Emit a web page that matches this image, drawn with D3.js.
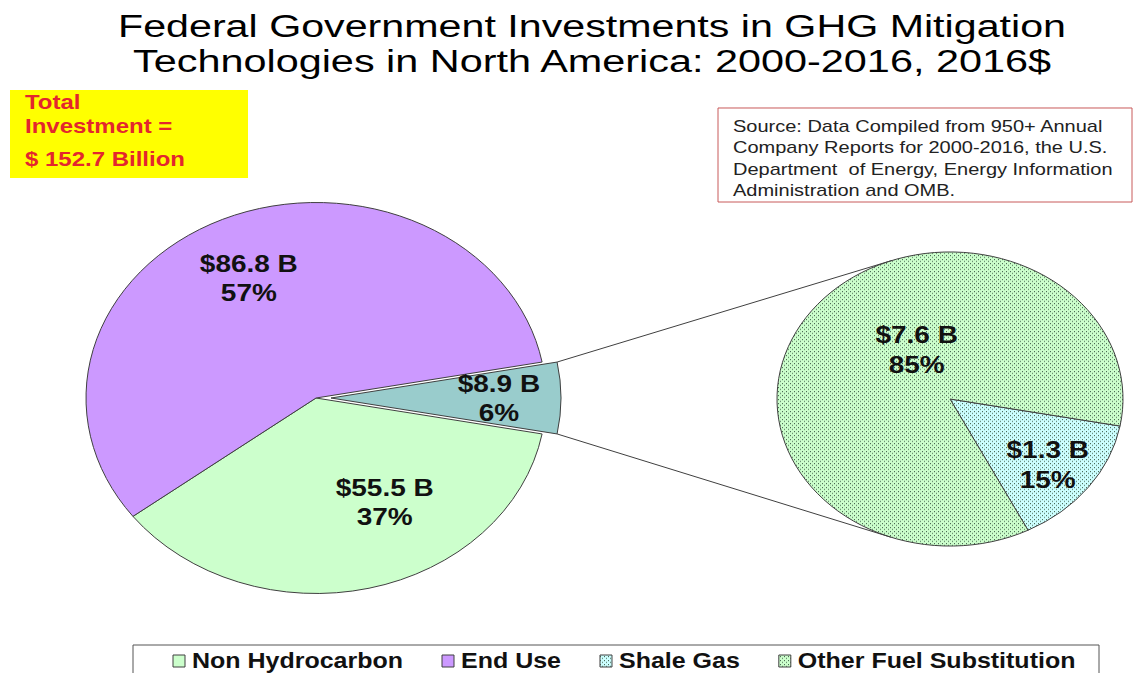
<!DOCTYPE html>
<html lang="en">
<head>
<meta charset="UTF-8">
<title>Federal Government Investments in GHG Mitigation Technologies</title>
<style>
  body { margin: 0; background: #fff; }
  svg { display: block; font-family: "Liberation Sans", Arial, sans-serif; }
  .pre { white-space: pre; }
</style>
</head>
<body>
<div id="chart"></div>
<script src="https://cdn.jsdelivr.net/npm/d3@7"></script>
<script>

// ---- data ----
var titleLines = ["Federal Government Investments in GHG Mitigation",
                  "Technologies in North America: 2000-2016, 2016$"];
var totalLines = ["Total", "Investment =", "$ 152.7 Billion"];
var sourceLines = ["Source: Data Compiled from 950+ Annual",
                   "Company Reports for 2000-2016, the U.S.",
                   "Department  of Energy, Energy Information",
                   "Administration and OMB."];

var mainCategories = ["Non Hydrocarbon", "End Use", "Fuel Substitution"];
var mainValues = [55.5, 86.8, 8.9];          // $ billion
var subCategories = ["Shale Gas", "Other Fuel Substitution"];
var subValues = [1.3, 7.6];                  // split of the 8.9 slice
var legendLabels = ["Non Hydrocarbon", "End Use", "Shale Gas", "Other Fuel Substitution"];

// ---- size ----
var width = 1139, height = 673;
var K = 0.85;                 // the picture is squeezed vertically
function Y(v) { return v / K; }

var svg = d3.select("#chart").append("svg")
    .attr("width", width)
    .attr("height", height);

// dotted fills
var defs = svg.append("defs");
function dots(id, base) {
    var p = defs.append("pattern")
        .attr("id", id)
        .attr("patternUnits", "userSpaceOnUse")
        .attr("width", 4).attr("height", 4)
        .attr("patternTransform", "scale(1," + (1 / K) + ")");
    p.append("rect").attr("width", 4).attr("height", 4).attr("fill", base);
    p.append("rect").attr("x", 0).attr("y", 0).attr("width", 1).attr("height", 1).attr("fill", "#3f5c48");
    p.append("rect").attr("x", 2).attr("y", 2).attr("width", 1).attr("height", 1).attr("fill", "#3f5c48");
}
dots("dotGreen", "#ccffcc");
dots("dotCyan", "#ccffff");

var color = d3.scaleOrdinal()
    .domain(["Non Hydrocarbon", "End Use", "Fuel Substitution", "Shale Gas", "Other Fuel Substitution"])
    .range(["#ccffcc", "#cc99ff", "#99cccc", "url(#dotCyan)", "url(#dotGreen)"]);

var g = svg.append("g").attr("transform", "scale(1," + K + ")");

// ---- title ----
var titleW = [948, 918];
g.selectAll(".title")
    .data(titleLines)
    .enter()
    .append("text")
    .attr("class", "title")
    .attr("x", 592)
    .attr("y", function (d, i) { return Y(37 + i * 35); })
    .attr("text-anchor", "middle")
    .attr("textLength", function (d, i) { return titleW[i]; })
    .attr("lengthAdjust", "spacingAndGlyphs")
    .style("font-size", "37px")
    .text(function (d) { return d; });

// ---- total investment box ----
g.append("rect")
    .attr("x", 10).attr("y", Y(90))
    .attr("width", 238).attr("height", Y(88))
    .attr("fill", "#ffff00");
var totalY = [109, 133, 166];
g.selectAll(".total")
    .data(totalLines)
    .enter()
    .append("text")
    .attr("class", "total")
    .attr("x", 25)
    .attr("y", function (d, i) { return Y(totalY[i]); })
    .attr("fill", "#e3262e")
    .style("font-size", "24px")
    .style("font-weight", "bold")
    .text(function (d) { return d; });

// ---- source box ----
g.append("rect")
    .attr("x", 718).attr("y", Y(108))
    .attr("width", 414).attr("height", Y(94))
    .attr("fill", "#fff")
    .attr("stroke", "#c85a5a")
    .attr("vector-effect", "non-scaling-stroke");
g.selectAll(".source")
    .data(sourceLines)
    .enter()
    .append("text")
    .attr("class", "source pre")
    .attr("x", 733)
    .attr("y", function (d, i) { return Y(132 + i * 21.3); })
    .attr("fill", "#222")
    .style("font-size", "20px")
    .text(function (d) { return d; });

// ---- pies ----
var pct = d3.format(".0%");
var total = d3.sum(mainValues);
var subTotal = d3.sum(subValues);
var f = mainValues[2] / total;
var a0 = Math.PI / 2 + f * Math.PI;        // the small slice points to the right

var R1 = 230, c1 = [316, Y(398)], explode = 15;
var R2 = 173, c2 = [950, Y(399)];

var pieMain = d3.pie().sort(null).startAngle(a0).endAngle(a0 + 2 * Math.PI);
var pieSub = d3.pie().sort(null).startAngle(a0).endAngle(a0 + 2 * Math.PI);
var arcMain = d3.arc().innerRadius(0).outerRadius(R1);
var arcSub = d3.arc().innerRadius(0).outerRadius(R2);

var mainArcs = pieMain(mainValues);
var subArcs = pieSub(subValues);

function mid(d) { return (d.startAngle + d.endAngle) / 2; }
function shift(d, i) { return i == 2 ? explode : 0; }

var mainG = g.append("g").attr("transform", "translate(" + c1[0] + "," + c1[1] + ")");
mainG.selectAll("path")
    .data(mainArcs)
    .enter()
    .append("path")
    .attr("transform", function (d, i) {
        return "translate(" + (shift(d, i) * Math.sin(mid(d))) + "," + (-shift(d, i) * Math.cos(mid(d))) + ")";
    })
    .attr("d", arcMain)
    .attr("fill", function (d, i) { return color(mainCategories[i]); })
    .attr("stroke", "#404040")
    .attr("stroke-width", 1)
    .attr("vector-effect", "non-scaling-stroke");

var subG = g.append("g").attr("transform", "translate(" + c2[0] + "," + c2[1] + ")");
subG.selectAll("path")
    .data(subArcs)
    .enter()
    .append("path")
    .attr("d", arcSub)
    .attr("fill", function (d, i) { return color(subCategories[i]); })
    .attr("stroke", "#404040")
    .attr("stroke-width", 1)
    .attr("vector-effect", "non-scaling-stroke");

// ---- connector lines from the exploded slice to the second pie ----
var small = mainArcs[2];
var ex = [c1[0] + explode * Math.sin(mid(small)), c1[1] - explode * Math.cos(mid(small))];
function corner(a) { return [ex[0] + R1 * Math.sin(a), ex[1] - R1 * Math.cos(a)]; }
function tangent(p, upper) {
    var dx = p[0] - c2[0], dy = p[1] - c2[1];
    var d = Math.hypot(dx, dy);
    var phi = Math.atan2(dy, dx), t = Math.acos(R2 / d);
    var q1 = [c2[0] + R2 * Math.cos(phi + t), c2[1] + R2 * Math.sin(phi + t)];
    var q2 = [c2[0] + R2 * Math.cos(phi - t), c2[1] + R2 * Math.sin(phi - t)];
    return upper ? (q1[1] < q2[1] ? q1 : q2) : (q1[1] > q2[1] ? q1 : q2);
}
var pTop = corner(small.startAngle), pBot = corner(small.endAngle);
var connectors = [[pTop, tangent(pTop, true)], [pBot, tangent(pBot, false)]];
g.selectAll(".connector")
    .data(connectors)
    .enter()
    .append("line")
    .attr("class", "connector")
    .attr("x1", function (d) { return d[0][0]; })
    .attr("y1", function (d) { return d[0][1]; })
    .attr("x2", function (d) { return d[1][0]; })
    .attr("y2", function (d) { return d[1][1]; })
    .attr("stroke", "#404040")
    .attr("stroke-width", 1)
    .attr("vector-effect", "non-scaling-stroke");

// ---- data labels ----
// where each label sits: fraction of radius, turn from mid angle (deg)
var mainLabelAt = [[0.61, -16], [0.68, -1.5], [0.73, 0]];
var subLabelAt = [[0.72, 1.4], [0.39, 23.5]];

function addLabels(arcs, values, sum, centre, R, at, offs) {
    arcs.forEach(function (d, i) {
        var a = mid(d) + at[i][1] * Math.PI / 180;
        var o = offs ? offs(d, i) : 0;
        var cx = centre[0] + o * Math.sin(mid(d)) + at[i][0] * R * Math.sin(a);
        var cy = centre[1] - o * Math.cos(mid(d)) - at[i][0] * R * Math.cos(a);
        var t = g.append("text")
            .attr("text-anchor", "middle")
            .attr("fill", "#111")
            .style("font-size", "28px")
            .style("font-weight", "bold");
        t.append("tspan").attr("x", cx).attr("y", cy - 7.5).text("$" + values[i] + " B");
        t.append("tspan").attr("x", cx).attr("y", cy + 27.5).text(pct(values[i] / sum));
    });
}
addLabels(mainArcs, mainValues, total, c1, R1, mainLabelAt, shift);
addLabels(subArcs, subValues, subTotal, c2, R2, subLabelAt, null);

// ---- legend ----
g.append("rect")
    .attr("x", 133).attr("y", Y(645))
    .attr("width", 966).attr("height", Y(60))
    .attr("fill", "#fff")
    .attr("stroke", "#555")
    .attr("vector-effect", "non-scaling-stroke");

var lx = 173, sq = 12, gap = 39;
legendLabels.forEach(function (name) {
    g.append("rect")
        .attr("x", lx).attr("y", Y(661 - sq / 2))
        .attr("width", sq).attr("height", Y(sq))
        .attr("fill", color(name))
        .attr("stroke", "#404040")
        .attr("vector-effect", "non-scaling-stroke");
    var t = g.append("text")
        .attr("x", lx + sq + 7)
        .attr("y", Y(668))
        .attr("fill", "#111")
        .style("font-size", "25px")
        .style("font-weight", "bold")
        .text(name);
    lx = lx + sq + 7 + t.node().getComputedTextLength() + gap;
});

</script>
</body>
</html>
